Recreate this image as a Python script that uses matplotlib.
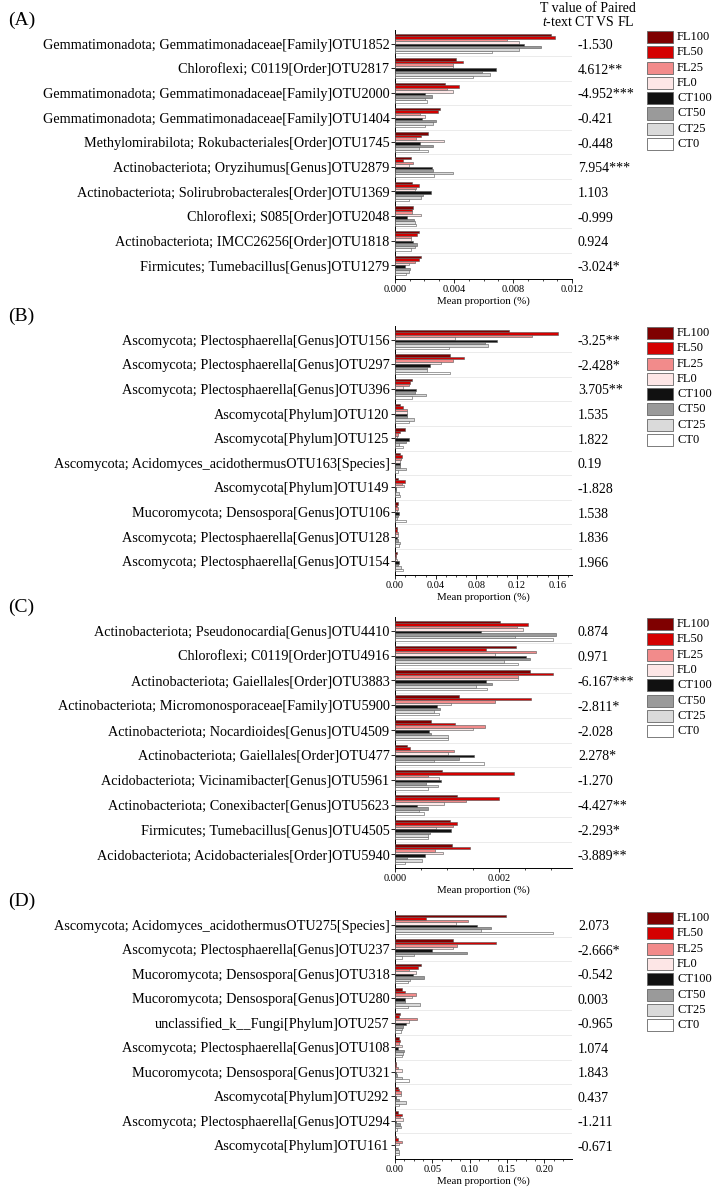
import matplotlib
matplotlib.use("Agg")
import matplotlib.pyplot as plt
from matplotlib.patches import Rectangle
from matplotlib.ticker import AutoMinorLocator

plt.rcParams['font.family'] = ['Liberation Serif', 'DejaVu Serif']
plt.rcParams['mathtext.fontset'] = 'custom'
plt.rcParams['mathtext.rm'] = 'Liberation Serif'
plt.rcParams['mathtext.it'] = 'Liberation Serif:italic'

# ---------------- data ----------------
series = ["FL100", "FL50", "FL25", "FL0", "CT100", "CT50", "CT25", "CT0"]
colors = ["#7f0000", "#d40000", "#f28b8b", "#fde6e6", "#111111", "#9a9a9a", "#dadada", "#ffffff"]

a_labels = ["Gemmatimonadota; Gemmatimonadaceae[Family]OTU1852",
            "Chloroflexi; C0119[Order]OTU2817",
            "Gemmatimonadota; Gemmatimonadaceae[Family]OTU2000",
            "Gemmatimonadota; Gemmatimonadaceae[Family]OTU1404",
            "Methylomirabilota; Rokubacteriales[Order]OTU1745",
            "Actinobacteriota; Oryzihumus[Genus]OTU2879",
            "Actinobacteriota; Solirubrobacterales[Order]OTU1369",
            "Chloroflexi; S085[Order]OTU2048",
            "Actinobacteriota; IMCC26256[Order]OTU1818",
            "Firmicutes; Tumebacillus[Genus]OTU1279"]
a_tvals = ["-1.530", "4.612**", "-4.952***", "-0.421", "-0.448",
           "7.954***", "1.103", "-0.999", "0.924", "-3.024*"]
a_values = [  # rows: categories; columns: series order
    [0.01058, 0.01087, 0.00759, 0.00838, 0.00872, 0.00990, 0.00838, 0.00658],
    [0.00414, 0.00463, 0.00391, 0.00391, 0.00687, 0.00590, 0.00644, 0.00531],
    [0.00341, 0.00432, 0.00353, 0.00391, 0.00201, 0.00251, 0.00201, 0.00215],
    [0.00305, 0.00294, 0.00169, 0.00201, 0.00185, 0.00276, 0.00255, 0.00201],
    [0.00221, 0.00176, 0.00142, 0.00332, 0.00172, 0.00255, 0.00160, 0.00221],
    [0.00106, 0.00056, 0.00122, 0.00097, 0.00249, 0.00255, 0.00391, 0.00264],
    [0.00113, 0.00165, 0.00142, 0.00138, 0.00244, 0.00188, 0.00176, 0.00093],
    [0.00122, 0.00115, 0.00115, 0.00176, 0.00081, 0.00127, 0.00138, 0.00145],
    [0.00165, 0.00149, 0.00111, 0.00106, 0.00122, 0.00149, 0.00138, 0.00111],
    [0.00176, 0.00160, 0.00133, 0.00097, 0.00068, 0.00102, 0.00093, 0.00075],
]

b_labels = ["Ascomycota; Plectosphaerella[Genus]OTU156",
            "Ascomycota; Plectosphaerella[Genus]OTU297",
            "Ascomycota; Plectosphaerella[Genus]OTU396",
            "Ascomycota[Phylum]OTU120",
            "Ascomycota[Phylum]OTU125",
            "Ascomycota; Acidomyces_acidothermusOTU163[Species]",
            "Ascomycota[Phylum]OTU149",
            "Mucoromycota; Densospora[Genus]OTU106",
            "Ascomycota; Plectosphaerella[Genus]OTU128",
            "Ascomycota; Plectosphaerella[Genus]OTU154"]
b_tvals = ["-3.25**", "-2.428*", "3.705**", "1.535", "1.822",
           "0.19", "-1.828", "1.538", "1.836", "1.966"]
b_values = [
    [0.112, 0.160, 0.135, 0.059, 0.100, 0.088, 0.091, 0.053],
    [0.054, 0.068, 0.057, 0.045, 0.034, 0.031, 0.031, 0.054],
    [0.017, 0.015, 0.014, 0.008, 0.021, 0.020, 0.030, 0.017],
    [0.005, 0.008, 0.012, 0.012, 0.012, 0.012, 0.019, 0.014],
    [0.010, 0.005, 0.003, 0.002, 0.014, 0.011, 0.004, 0.008],
    [0.005, 0.007, 0.006, 0.005, 0.005, 0.005, 0.011, 0.003],
    [0.003, 0.010, 0.007, 0.009, 0.001, 0.001, 0.004, 0.005],
    [0.003, 0.002, 0.003, 0.002, 0.004, 0.003, 0.002, 0.011],
    [0.002, 0.002, 0.003, 0.003, 0.002, 0.003, 0.005, 0.004],
    [0.002, 0.001, 0.0013, 0.002, 0.004, 0.003, 0.006, 0.008],
]

c_labels = ["Actinobacteriota; Pseudonocardia[Genus]OTU4410",
            "Chloroflexi; C0119[Order]OTU4916",
            "Actinobacteriota; Gaiellales[Order]OTU3883",
            "Actinobacteriota; Micromonosporaceae[Family]OTU5900",
            "Actinobacteriota; Nocardioides[Genus]OTU4509",
            "Actinobacteriota; Gaiellales[Order]OTU477",
            "Acidobacteriota; Vicinamibacter[Genus]OTU5961",
            "Actinobacteriota; Conexibacter[Genus]OTU5623",
            "Firmicutes; Tumebacillus[Genus]OTU4505",
            "Acidobacteriota; Acidobacteriales[Order]OTU5940"]
c_tvals = ["0.874", "0.971", "-6.167***", "-2.811*", "-2.028",
           "2.278*", "-1.270", "-4.427**", "-2.293*", "-3.889**"]
c_values = [
    [0.00201, 0.00255, 0.00234, 0.00246, 0.00166, 0.00309, 0.00230, 0.00304],
    [0.00232, 0.00174, 0.00271, 0.00192, 0.00251, 0.00260, 0.00210, 0.00237],
    [0.00259, 0.00304, 0.00237, 0.00237, 0.00174, 0.00186, 0.00156, 0.00177],
    [0.00122, 0.00262, 0.00192, 0.00107, 0.00080, 0.00086, 0.00074, 0.00085],
    [0.00069, 0.00116, 0.00172, 0.00150, 0.00066, 0.00070, 0.00102, 0.00102],
    [0.00024, 0.00028, 0.00114, 0.00102, 0.00152, 0.00123, 0.00075, 0.00171],
    [0.00090, 0.00228, 0.00063, 0.00084, 0.00089, 0.00059, 0.00082, 0.00063],
    [0.00120, 0.00199, 0.00136, 0.00095, 0.00042, 0.00063, 0.00047, 0.00055],
    [0.00105, 0.00120, 0.00111, 0.00078, 0.00108, 0.00067, 0.00064, 0.00064],
    [0.00110, 0.00144, 0.00076, 0.00093, 0.00057, 0.00023, 0.00051, 0.00020],
]

d_labels = ["Ascomycota; Acidomyces_acidothermusOTU275[Species]",
            "Ascomycota; Plectosphaerella[Genus]OTU237",
            "Mucoromycota; Densospora[Genus]OTU318",
            "Mucoromycota; Densospora[Genus]OTU280",
            "unclassified_k__Fungi[Phylum]OTU257",
            "Ascomycota; Plectosphaerella[Genus]OTU108",
            "Mucoromycota; Densospora[Genus]OTU321",
            "Ascomycota[Phylum]OTU292",
            "Ascomycota; Plectosphaerella[Genus]OTU294",
            "Ascomycota[Phylum]OTU161"]
d_tvals = ["2.073", "-2.666*", "-0.542", "0.003", "-0.965",
           "1.074", "1.843", "0.437", "-1.211", "-0.671"]
d_values = [
    [0.148, 0.042, 0.098, 0.082, 0.110, 0.128, 0.115, 0.212],
    [0.078, 0.135, 0.083, 0.077, 0.050, 0.096, 0.026, 0.010],
    [0.035, 0.031, 0.019, 0.028, 0.024, 0.039, 0.020, 0.018],
    [0.010, 0.014, 0.028, 0.023, 0.014, 0.013, 0.033, 0.017],
    [0.007, 0.006, 0.029, 0.019, 0.015, 0.011, 0.009, 0.008],
    [0.006, 0.007, 0.005, 0.009, 0.004, 0.012, 0.011, 0.009],
    [0.002, 0.001, 0.004, 0.009, 0.001, 0.003, 0.010, 0.019],
    [0.004, 0.005, 0.008, 0.008, 0.002, 0.005, 0.015, 0.006],
    [0.004, 0.009, 0.007, 0.011, 0.002, 0.007, 0.008, 0.003],
    [0.002, 0.004, 0.010, 0.005, 0.0004, 0.004, 0.005, 0.005],
]

a_xticks = [0.000, 0.004, 0.008, 0.012]
b_xticks = [0.00, 0.04, 0.08, 0.12, 0.16]
c_xticks = [0.000, 0.002]
d_xticks = [0.00, 0.05, 0.10, 0.15, 0.20]

# ---------------- layout ----------------
W, H = 715, 1189
fig = plt.figure(figsize=(W / 100, H / 100), dpi=100)


def px_axes(left, top, right, bottom):
    return fig.add_axes([left / W, 1 - bottom / H, (right - left) / W, (bottom - top) / H])


def draw_panel(letter, labels, tvals, values, xticks, xmax, fmt, top, bottom, header=False):
    left, right = 395, 572
    ax = px_axes(left, top, right, bottom)
    n = len(labels)
    bar_h = 0.1
    for j in range(len(series)):
        ys = [i - 0.35 + j * bar_h for i in range(n)]
        xs = [row[j] for row in values]
        ax.barh(ys, xs, height=bar_h, color=colors[j], edgecolor="#555555",
                linewidth=0.4, align="center", zorder=3)
    for i in range(n - 1):
        ax.axhline(i + 0.5, color="#e8e8e8", linewidth=0.6, zorder=1)
    ax.set_ylim(n - 0.45, -0.55)
    ax.set_xlim(0, xmax)
    ax.set_yticks(range(n))
    ax.set_yticklabels(labels, fontsize=10.3)
    ax.set_xticks(xticks)
    ax.set_xticklabels([fmt.format(v) for v in xticks], fontsize=7.5)
    ax.xaxis.set_minor_locator(AutoMinorLocator(4))
    ax.tick_params(axis="x", which="major", length=3, width=0.6, pad=1)
    ax.tick_params(axis="x", which="minor", length=1.6, width=0.5)
    ax.tick_params(axis="y", length=3, width=0.6, pad=1)
    for s in ["top", "right"]:
        ax.spines[s].set_visible(False)
    for s in ["left", "bottom"]:
        ax.spines[s].set_linewidth(0.7)
    ax.set_xlabel("Mean proportion (%)", fontsize=7.8, labelpad=2)

    # t values
    for i, t in enumerate(tvals):
        ax.text(1.0 + 6 / (right - left), i + 0.08, t, transform=ax.get_yaxis_transform(),
                ha="left", va="center", fontsize=10, clip_on=False)

    # panel letter
    fig.text(8 / W, 1 - (top - 10) / H, letter, fontsize=14, ha="left", va="center")

    if header:
        fig.text(588 / W, 1 - 9 / H, "T value of Paired", fontsize=10, ha="center", va="center")
        fig.text(588 / W, 1 - 22 / H, r"$t$-text CT VS FL", fontsize=10, ha="center", va="center")

    # legend
    y0 = top + 7
    for j, name in enumerate(series):
        yc = y0 + j * 15.3
        fig.add_artist(Rectangle((647 / W, 1 - (yc + 6) / H), 26 / W, 12 / H,
                                 facecolor=colors[j], edgecolor="#666666", linewidth=0.6,
                                 transform=fig.transFigure))
        fig.text(677 / W, 1 - yc / H, name, fontsize=9, ha="left", va="center")
    return ax


draw_panel("(A)", a_labels, a_tvals, a_values, a_xticks, 0.012, "{:.3f}", 30, 279, header=True)
draw_panel("(B)", b_labels, b_tvals, b_values, b_xticks, 0.174, "{:.2f}", 326, 575)
draw_panel("(C)", c_labels, c_tvals, c_values, c_xticks, 0.0034, "{:.3f}", 617, 868)
draw_panel("(D)", d_labels, d_tvals, d_values, d_xticks, 0.237, "{:.2f}", 911, 1159)

fig.savefig("out.png", dpi=100)
